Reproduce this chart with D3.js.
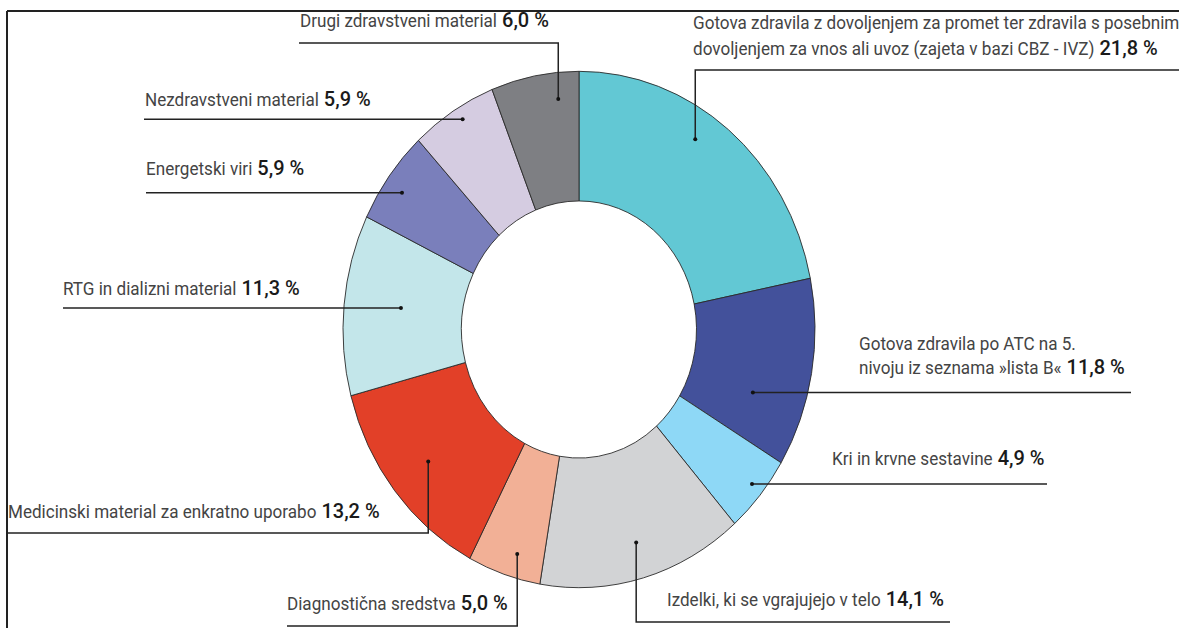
<!DOCTYPE html>
<html>
  <head>
    <meta charset="utf-8">
    <title>Struktura porabe</title>
    <script src="https://d3js.org/d3.v7.min.js"></script>
    <style>
      body { margin: 0; background: #fff; }
      .lbl { font-family: Roboto, sans-serif; font-size: 18.5px; fill: #444; white-space: pre; }
      .val { font-family: Roboto, sans-serif; font-size: 20px; font-weight: 500; fill: #1a1a1a; }
      .slice { stroke: #2a2a2a; stroke-width: 0.9px; vector-effect: non-scaling-stroke; }
      .leader { fill: none; stroke: #222; stroke-width: 1.5px; }
    </style>
  </head>
  <body>
  <svg id="chart" width="1179" height="628"></svg>

  <script>
  // data (share of spending, %)
  const categories = [
    "Gotova zdravila z dovoljenjem za promet ter zdravila s posebnim\ndovoljenjem za vnos ali uvoz (zajeta v bazi CBZ - IVZ)",
    "Gotova zdravila po ATC na 5.\nnivoju iz seznama »lista B«",
    "Kri in krvne sestavine",
    "Izdelki, ki se vgrajujejo v telo",
    "Diagnostična sredstva",
    "Medicinski material za enkratno uporabo",
    "RTG in dializni material",
    "Energetski viri",
    "Nezdravstveni material",
    "Drugi zdravstveni material"
  ];
  const shares = [21.8, 11.8, 4.9, 14.1, 5.0, 13.2, 11.3, 5.9, 5.9, 6.0];
  const colors = ["#62c8d4", "#43519b", "#8ed8f6", "#d2d3d5", "#f2b096",
                  "#e24028", "#c3e6ea", "#7a7fbb", "#d5cce1", "#7e7f83"];

  // where the leader dot sits inside each slice (fraction of the slice angle, fraction of outer radius)
  const anchorT = [0.43, 0.70, 0.46, 0.49, 0.40, 0.50, 0.52, 0.44, 0.55, 0.74];
  const anchorR = [0.886, 0.776, 0.946, 0.860, 0.908, 0.818, 0.759, 0.918, 0.952, 0.897];

  // label placement
  const labelLayout = [
    {route: "vh", bend: 70,  end: 1179, tx: 693, ty: 29,  lh: 26},
    {route: "h",             end: 1131, tx: 859, ty: 350, lh: 24},
    {route: "h",             end: 1047, tx: 832, ty: 465},
    {route: "vh", bend: 622, end: 950,  tx: 667, ty: 606},
    {route: "vh", bend: 626, end: 287,  tx: 287, ty: 610},
    {route: "vh", bend: 533, end: 7,    tx: 8,   ty: 518},
    {route: "h",             end: 63,   tx: 63,  ty: 295},
    {route: "h",             end: 146,  tx: 146, ty: 175},
    {route: "h",             end: 144,  tx: 145, ty: 106},
    {route: "vh", bend: 43,  end: 299,  tx: 300, ty: 27}
  ];

  const svg = d3.select("#chart");
  const cx = 579, cy = 329.5;
  const outerR = 236, innerR = 117.5, squash = 1.094;   // the ring is drawn slightly taller than wide

  const fmt = v => d3.format(".1f")(v).replace(".", ",") + " %";

  const pie = d3.pie().sort(null).value(d => d);
  const arcs = pie(shares);
  const arc = d3.arc().innerRadius(innerR).outerRadius(outerR);

  svg.append("g")
    .attr("transform", `translate(${cx},${cy}) scale(1,${squash})`)
    .selectAll("path")
    .data(arcs)
    .enter().append("path")
      .attr("class", "slice")
      .attr("d", arc)
      .attr("fill", (d, i) => colors[i]);

  // frame
  svg.append("line").attr("x1", 7).attr("y1", 11).attr("x2", 1179).attr("y2", 11)
    .attr("stroke", "#222").attr("stroke-width", 2);
  svg.append("line").attr("x1", 7).attr("y1", 11).attr("x2", 7).attr("y2", 628)
    .attr("stroke", "#222").attr("stroke-width", 2);

  function anchorPoint(d, i) {
    const a = d.startAngle + anchorT[i] * (d.endAngle - d.startAngle);
    const r = anchorR[i] * outerR;
    return [cx + Math.sin(a) * r, cy - Math.cos(a) * r * squash];
  }

  const line = d3.line();
  const leaders = svg.append("g");
  const labels = svg.append("g");

  arcs.forEach((d, i) => {
    const p = anchorPoint(d, i);
    const L = labelLayout[i];
    const pts = L.route === "h"
      ? [p, [L.end, p[1]]]
      : [p, [p[0], L.bend], [L.end, L.bend]];
    leaders.append("path").attr("class", "leader").attr("d", line(pts));
    leaders.append("circle").attr("cx", p[0]).attr("cy", p[1]).attr("r", 2).attr("fill", "#111");
  });

  // labels are set in a narrow face: squeeze a regular sans horizontally
  const probe = labels.append("text").attr("class", "lbl").text(categories[8]);
  const sx = 174 / probe.node().getComputedTextLength();
  probe.remove();

  arcs.forEach((d, i) => {
    const L = labelLayout[i];
    const lines = categories[i].split("\n");
    const t = labels.append("text")
      .attr("class", "lbl")
      .attr("transform", `translate(${L.tx},${L.ty}) scale(${sx},1)`);
    const spans = lines.map((s, k) => t.append("tspan")
      .attr("x", 0)
      .attr("y", k * (L.lh || 0))
      .text(s));
    const last = spans[spans.length - 1].node().getComputedTextLength() * sx;
    labels.append("text")
      .attr("class", "val")
      .attr("x", L.tx + last + 5)
      .attr("y", L.ty + (lines.length - 1) * (L.lh || 0))
      .text(fmt(shares[i]));
  });
  </script>
  </body>
</html>
